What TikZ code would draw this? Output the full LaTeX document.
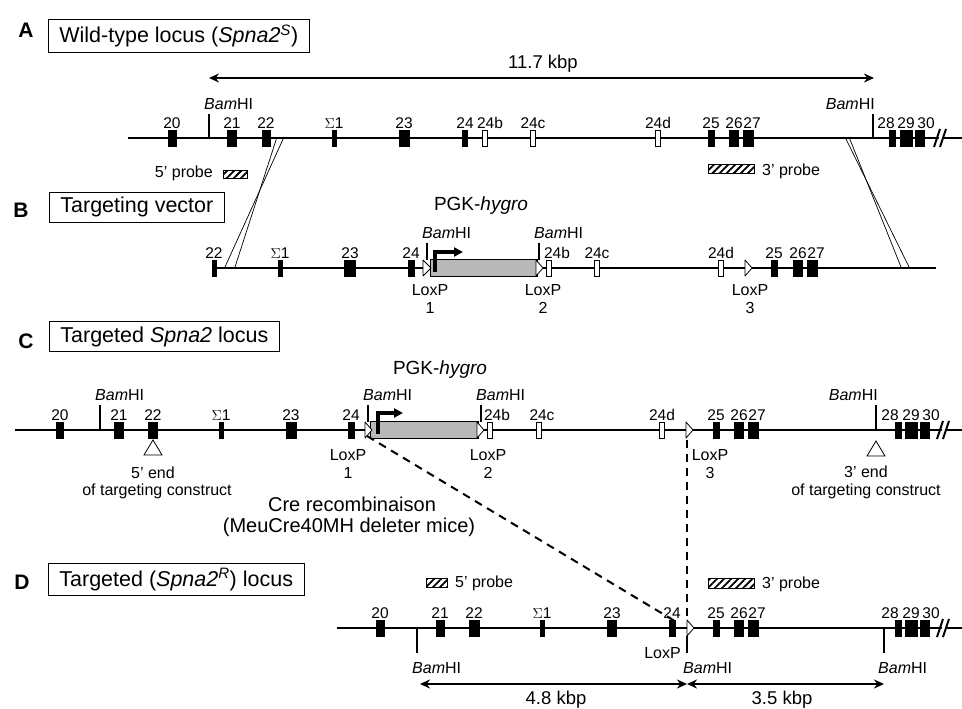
\documentclass[tikz,border=0pt]{standalone}
\usepackage{fontspec}
\setmainfont{Liberation Sans}
\usetikzlibrary{arrows.meta, patterns.meta}

\begin{document}
\begin{tikzpicture}[x=1pt, y=-1pt,
    chrom/.style={line width=2.9pt},
    block/.style={fill=black, inner sep=0pt, minimum height=17pt},
    exon/.style={block, label={[num]above:#1}},
    ebox/.style={draw, fill=white, line width=0.8pt, inner sep=0pt, minimum width=4.5pt, minimum height=16pt},
    oexon/.style={ebox, label={[num]above:#1}},
    num/.style={font=\fontsize{15.5}{15.5}\selectfont, inner sep=0.5pt},
    txt/.style={font=\fontsize{16}{16}\selectfont, inner sep=0pt, anchor=base},
    big/.style={font=\fontsize{19}{19}\selectfont, inner sep=0pt, anchor=base},
    kbp/.style={font=\fontsize{18.5}{18.5}\selectfont, inner sep=0pt, anchor=base},
    panel/.style={font=\fontsize{21}{21}\selectfont\bfseries, inner sep=0pt, anchor=base},
    title/.style={draw, line width=0.8pt, anchor=west, inner xsep=11pt, inner ysep=5pt, font=\fontsize{21.5}{21.5}\selectfont},
    site/.style={line width=2.8pt},
    probe/.style={draw, line width=0.8pt, pattern={Lines[angle=45, distance=5pt, line width=1.8pt]}},
    dim/.style={arrows={Stealth[length=10pt,width=9pt]-Stealth[length=10pt,width=9pt]}, line width=2.4pt},
    arm/.style={line width=0.7pt},
    cre/.style={line width=2pt, dash pattern=on 8pt off 6pt},
    hygro/.style={draw, fill=black!28, line width=0.8pt, inner sep=0pt, minimum height=17pt},
    loxp/.style={draw, fill=white, line width=0.8pt, line join=round},
    endmark/.style={draw, fill=white, line width=0.8pt},
    prom/.style={arrows={-Triangle[length=9pt,width=9pt]}, line width=3.5pt}]
  \useasboundingbox (0,0) rectangle (962,709);

  % A: wild-type locus
  \node[panel] (pa) at (26,37.5) {A};
  \node[title] (ta) at (48,36) {Wild-type locus (\textit{Spna2\textsuperscript{S}})};
  \draw[dim] (209,78) -- (874,78);
  \node[kbp] (ka) at (543,69) {11.7 kbp};
  \draw[chrom] (128,138) -- (962,138);
  \node[exon=20, minimum width=9pt]  (a20) at (172,138) {};
  \node[exon=21, minimum width=10pt] (a21) at (232,138) {};
  \node[exon=22, minimum width=9pt]  (a22) at (266,138) {};
  \node[exon={$\Sigma$1}, minimum width=5pt] (as1) at (334,138) {};
  \node[exon=23, minimum width=11pt] (a23) at (404,138) {};
  \node[exon=24, minimum width=6pt]  (a24) at (465,138) {};
  \node[ebox, label={[num,xshift=5pt]above:24b}] (a24b) at (485,138) {};
  \node[oexon=24c] (a24c) at (533,138) {};
  \node[oexon=24d] (a24d) at (658,138) {};
  \node[exon=25, minimum width=7pt]  (a25) at (711,138) {};
  \node[exon=26, minimum width=10pt] (a26) at (734,138) {};
  \node[block, minimum width=11pt, label={[num,xshift=4pt]above:27}] (a27) at (748,138) {};
  \node[block, minimum width=7pt, label={[num,xshift=-6pt]above:28}] (a28) at (892,138) {};
  \node[exon=29, minimum width=13pt] (a29) at (906,138) {};
  \node[block, minimum width=10pt, label={[num,xshift=6pt]above:30}] (a30) at (920,138) {};
  \fill[white] (936,147) -- (942,129) -- (946,129) -- (940,147) -- cycle;
  \draw[line width=2pt] (934,147) -- (940,129) (940,147) -- (946,129);
  \draw[site] (209,138) -- (209,114);
  \node[txt, anchor=base west] (abam1) at (204,110) {\textit{Bam}HI};
  \draw[site] (873,138) -- (873,114);
  \node[txt, anchor=base east] (abam2) at (875,110) {\textit{Bam}HI};
  \node[txt, anchor=base east] (a5p) at (213,177) {5' probe};
  \draw[probe] (223,170) rectangle (247,178);
  \node[txt, anchor=base west] (a3p) at (762,175) {3' probe};
  \draw[probe] (708,164) rectangle (754,173);

  % homology arms
  \coordinate (a5l) at (277,137);  \coordinate (b5l) at (235,267);
  \coordinate (a5r) at (284,137);  \coordinate (b5r) at (225,267);
  \coordinate (a3l) at (845,137);  \coordinate (b3l) at (909,267);
  \coordinate (a3r) at (849,137);  \coordinate (b3r) at (901,267);
  \draw[arm] (a5l) -- (b5l);
  \draw[arm] (a5r) -- (b5r);
  \draw[arm] (a3l) -- (b3l);
  \draw[arm] (a3r) -- (b3r);

  % B: targeting vector
  \node[panel] (pb) at (21,217.5) {B};
  \node[title] (tb) at (49,207) {Targeting vector};
  \node[big] (pgkb) at (481,210) {PGK-\textit{hygro}};
  \draw[chrom] (213,268) -- (936,268);
  \node[exon=22, minimum width=5pt]  (b22) at (214,268) {};
  \node[exon={$\Sigma$1}, minimum width=5pt] (bs1) at (280,268) {};
  \node[exon=23, minimum width=12pt] (b23) at (350,268) {};
  \node[exon=24, minimum width=7pt]  (b24) at (411,268) {};
  \node[hygro, minimum width=107pt] (bhyg) at (483.5,268) {};
  \draw[loxp] (423,260) -- (431,268) -- (423,276) -- cycle;
  \draw[loxp] (536,260) -- (543,268) -- (536,276) -- cycle;
  \draw[site] (427,260) -- (427,243);
  \node[txt, anchor=base west] (bbam1) at (422,238) {\textit{Bam}HI};
  \draw[site] (539,260) -- (539,243);
  \node[txt, anchor=base west] (bbam2) at (534,238) {\textit{Bam}HI};
  \draw[prom] (435,272) -- (435,252) -- (463,252);
  \node[ebox, label={[num,xshift=8pt]above:24b}] (b24b) at (549,268) {};
  \node[oexon=24c] (b24c) at (597,268) {};
  \node[oexon=24d] (b24d) at (721,268) {};
  \draw[loxp] (745,260) -- (752,268) -- (745,276) -- cycle;
  \node[exon=25, minimum width=7pt]  (b25) at (774,268) {};
  \node[exon=26, minimum width=10pt] (b26) at (798,268) {};
  \node[block, minimum width=11pt, label={[num,xshift=4pt]above:27}] (b27) at (812,268) {};
  \node[txt] (bl1) at (430,295) {LoxP};
  \node[txt] (bn1) at (430,313) {1};
  \node[txt] (bl2) at (543,295) {LoxP};
  \node[txt] (bn2) at (543,313) {2};
  \node[txt] (bl3) at (750,295) {LoxP};
  \node[txt] (bn3) at (750,313) {3};

  % C: targeted locus
  \node[panel] (pc) at (26,348.5) {C};
  \node[title] (tc) at (49,336.5) {Targeted \textit{Spna2} locus};
  \node[big] (pgkc) at (440,374) {PGK-\textit{hygro}};
  \draw[chrom] (15,430) -- (962,430);
  \node[exon=20, minimum width=8pt]  (c20) at (60,430) {};
  \node[exon=21, minimum width=10pt] (c21) at (119,430) {};
  \node[exon=22, minimum width=10pt] (c22) at (153,430) {};
  \node[exon={$\Sigma$1}, minimum width=5pt] (cs1) at (221,430) {};
  \node[exon=23, minimum width=11pt] (c23) at (291,430) {};
  \node[exon=24, minimum width=7pt]  (c24) at (351,430) {};
  \node[hygro, minimum width=108pt] (chyg) at (424,430) {};
  \draw[loxp] (365,422) -- (372,430) -- (365,438) -- cycle;
  \draw[loxp] (477,422) -- (484,430) -- (477,438) -- cycle;
  \draw[site] (100,430) -- (100,405);
  \node[txt, anchor=base west] (cbam1) at (95,400) {\textit{Bam}HI};
  \draw[site] (368,422) -- (368,405);
  \node[txt, anchor=base west] (cbam2) at (363,400) {\textit{Bam}HI};
  \draw[site] (481,422) -- (481,405);
  \node[txt, anchor=base west] (cbam3) at (476,400) {\textit{Bam}HI};
  \draw[prom] (378,434) -- (378,413) -- (403,413);
  \node[ebox, label={[num,xshift=7pt]above:24b}] (c24b) at (490,430) {};
  \node[ebox, label={[num,xshift=3pt]above:24c}] (c24c) at (539,430) {};
  \node[oexon=24d] (c24d) at (662,430) {};
  \draw[loxp] (686,422) -- (693,430) -- (686,438) -- cycle;
  \node[exon=25, minimum width=7pt]  (c25) at (716,430) {};
  \node[exon=26, minimum width=10pt] (c26) at (739,430) {};
  \node[block, minimum width=11pt, label={[num,xshift=4pt]above:27}] (c27) at (753,430) {};
  \draw[site] (876,430) -- (876,405);
  \node[txt, anchor=base east] (cbam4) at (878,400) {\textit{Bam}HI};
  \node[block, minimum width=7pt, label={[num,xshift=-8pt]above:28}] (c28) at (898,430) {};
  \node[exon=29, minimum width=13pt] (c29) at (911,430) {};
  \node[block, minimum width=10pt, label={[num,xshift=6pt]above:30}] (c30) at (925,430) {};
  \fill[white] (939,439) -- (945,421) -- (949,421) -- (943,439) -- cycle;
  \draw[line width=2pt] (937,439) -- (943,421) (943,439) -- (949,421);
  \draw[endmark] (153,440) -- (162,455) -- (144,455) -- cycle;
  \draw[endmark] (876,441) -- (885,456) -- (867,456) -- cycle;
  \node[txt] (c5e) at (153,478) {5' end};
  \node[txt] (c5c) at (157,495) {of targeting construct};
  \node[txt] (c3e) at (866,477) {3' end};
  \node[txt] (c3c) at (866,495) {of targeting construct};
  \node[txt] (cl1) at (348,460) {LoxP};
  \node[txt] (cn1) at (348,478) {1};
  \node[txt] (cl2) at (488,460) {LoxP};
  \node[txt] (cn2) at (488,478) {2};
  \node[txt] (cl3) at (710,460) {LoxP};
  \node[txt] (cn3) at (710,478) {3};
  \node[txt, font=\fontsize{20}{20}\selectfont] (cre1) at (352,511) {Cre recombinaison};
  \node[txt, font=\fontsize{20}{20}\selectfont] (cre2) at (349,532) {(MeuCre40MH deleter mice)};

  % Cre excision
  \coordinate (clp1) at (367,436);
  \coordinate (dlp1) at (678,623);
  \coordinate (clp3) at (687,440);
  \coordinate (dlp3) at (687,622);
  \draw[cre] (clp1) -- (dlp1);
  \draw[cre] (clp3) -- (dlp3);

  % D: deleted locus
  \node[panel] (pd) at (22,589.5) {D};
  \node[title] (td) at (48,579.5) {Targeted (\textit{Spna2\textsuperscript{R}}) locus};
  \draw[probe] (426,578) rectangle (447,587);
  \node[txt, anchor=base west] (d5p) at (455,587) {5' probe};
  \draw[probe] (708,578) rectangle (754,588);
  \node[txt, anchor=base west] (d3p) at (762,588) {3' probe};
  \draw[chrom] (337,628) -- (962,628);
  \node[exon=20, minimum width=9pt]  (d20) at (380,628) {};
  \node[exon=21, minimum width=9pt]  (d21) at (440,628) {};
  \node[exon=22, minimum width=11pt] (d22) at (474,628) {};
  \node[exon={$\Sigma$1}, minimum width=5pt] (ds1) at (542,628) {};
  \node[exon=23, minimum width=10pt] (d23) at (612,628) {};
  \node[exon=24, minimum width=7pt]  (d24) at (672,628) {};
  \draw[loxp] (687,620) -- (694,628) -- (687,636) -- cycle;
  \node[exon=25, minimum width=7pt]  (d25) at (716,628) {};
  \node[exon=26, minimum width=10pt] (d26) at (739,628) {};
  \node[block, minimum width=11pt, label={[num,xshift=4pt]above:27}] (d27) at (753,628) {};
  \node[block, minimum width=7pt, label={[num,xshift=-8pt]above:28}] (d28) at (898,628) {};
  \node[exon=29, minimum width=13pt] (d29) at (911,628) {};
  \node[block, minimum width=10pt, label={[num,xshift=6pt]above:30}] (d30) at (925,628) {};
  \fill[white] (939,637) -- (945,619) -- (949,619) -- (943,637) -- cycle;
  \draw[line width=2pt] (937,637) -- (943,619) (943,637) -- (949,619);
  \draw[site] (417,628) -- (417,653);
  \node[txt, anchor=base west] (dbam1) at (412,673) {\textit{Bam}HI};
  \draw[site] (687,636) -- (687,653);
  \node[txt, anchor=base west] (dbam2) at (683,673) {\textit{Bam}HI};
  \draw[site] (884,628) -- (884,653);
  \node[txt, anchor=base west] (dbam3) at (878,673) {\textit{Bam}HI};
  \node[txt, anchor=base east] (dl) at (681,658) {LoxP};
  \draw[dim] (420,684) -- (687,684);
  \draw[dim] (687,684) -- (884,684);
  \node[kbp] (kd1) at (556,704) {4.8 kbp};
  \node[kbp] (kd2) at (782,704) {3.5 kbp};
\end{tikzpicture}
\end{document}
